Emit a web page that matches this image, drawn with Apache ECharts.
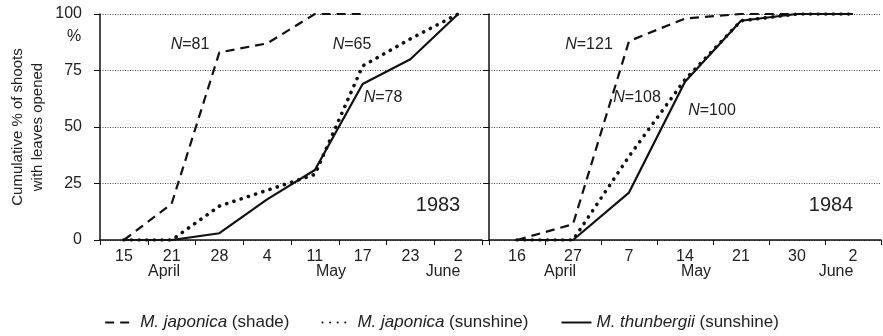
<!DOCTYPE html>
<html>
<head>
<meta charset="utf-8">
<script src="https://cdn.jsdelivr.net/npm/echarts@6/dist/echarts.min.js"></script>
<style>
  html, body { margin: 0; padding: 0; background: #fff; }
  #chart { width: 883px; height: 336px; }
</style>
</head>
<body>
<div id="chart"></div>
<script>
// 1983 panel
const days1983 = ["15", "21", "28", "4", "11", "17", "23", "2"];
const shade1983 = [0, 16, 83, 87, 100, 100, null, null];
const sunJaponica1983 = [0, 0, 15, 22, 29, 77, 89, 100];
const thunbergii1983 = [0, 0, 3, 18, 31, 69, 80, 100];

// 1984 panel
const days1984 = ["16", "27", "7", "14", "21", "30", "2"];
const shade1984 = [0, 7, 88, 98, 100, 100, 100];
const sunJaponica1984 = [0, 0, 37, 71, 97, 100, 100];
const thunbergii1984 = [0, 0, 21, 70, 97, 100, 100];

const yTicks = [0, 25, 50, 75, 100];

const seriesNames = [
  "M. japonica (shade)",
  "M. japonica (sunshine)",
  "M. thunbergii (sunshine)"
];

const FONT = "Liberation Sans, Arial, sans-serif";
const INK = "#111";
const TXT = "#222";

const lineStyles = [
  { color: INK, width: 2.2, type: [9, 6] },
  { color: INK, width: 3.6, type: [0.1, 7.5], cap: "round" },
  { color: INK, width: 2.2, type: "solid" }
];

function xAxisFor(gridIndex, days) {
  return {
    type: "category",
    gridIndex: gridIndex,
    data: days,
    boundaryGap: true,
    axisLine: { lineStyle: { color: INK, width: 1.5 } },
    axisTick: { show: true, length: 5, lineStyle: { color: INK, width: 1 } },
    axisLabel: { color: TXT, fontSize: 16, fontFamily: FONT, margin: 9, interval: 0 },
    splitLine: { show: false }
  };
}

function yAxisFor(gridIndex, showLabels) {
  return {
    type: "value",
    gridIndex: gridIndex,
    min: yTicks[0],
    max: yTicks[yTicks.length - 1],
    interval: 25,
    axisLine: { show: true, lineStyle: { color: INK, width: 1.5 } },
    axisTick: { show: true, length: 6, lineStyle: { color: INK, width: 1 } },
    axisLabel: { show: showLabels, color: TXT, fontSize: 16, fontFamily: FONT, margin: 18 },
    splitLine: { show: true, lineStyle: { color: "#444", width: 1, type: [1, 1.5] } },
    name: showLabels ? "Cumulative % of shoots\nwith leaves opened" : "",
    nameLocation: "middle",
    nameRotate: 90,
    nameGap: 52,
    nameTextStyle: { color: TXT, fontSize: 15, fontFamily: FONT, lineHeight: 20 }
  };
}

function lineSeries(idx, gridIdx, data) {
  return {
    name: seriesNames[idx],
    type: "line",
    xAxisIndex: gridIdx,
    yAxisIndex: gridIdx,
    data: data,
    symbol: "none",
    showSymbol: false,
    connectNulls: false,
    silent: true,
    itemStyle: { color: INK },
    lineStyle: lineStyles[idx],
    z: 3 + idx
  };
}

function textEl(x, y, rich, size) {
  return {
    type: "text",
    x: x,
    y: y,
    style: {
      text: rich,
      fill: TXT,
      font: size + "px " + FONT,
      align: "center",
      verticalAlign: "middle",
      rich: {
        i: { fontStyle: "italic", fontSize: size, fontFamily: FONT, fill: TXT },
        n: { fontSize: size, fontFamily: FONT, fill: TXT }
      }
    }
  };
}

const option = {
  animation: false,
  backgroundColor: "#fff",
  textStyle: { fontFamily: FONT },
  grid: [
    { left: 100, right: 401, top: 14, bottom: 96 },
    { left: 489, right: 2, top: 14, bottom: 96 }
  ],
  xAxis: [xAxisFor(0, days1983), xAxisFor(1, days1984)],
  yAxis: [yAxisFor(0, true), yAxisFor(1, false)],
  legend: {
    left: "center",
    top: 309,
    itemWidth: 30,
    itemHeight: 12,
    itemGap: 32,
    selectedMode: false,
    data: seriesNames,
    itemStyle: { opacity: 0 },
    formatter: function (name) {
      const parts = name.split(" (");
      return "{i|" + parts[0] + "} {n|(" + parts[1] + "}";
    },
    textStyle: {
      color: TXT,
      fontSize: 17,
      fontFamily: FONT,
      rich: {
        i: { fontStyle: "italic", fontSize: 17, fontFamily: FONT, color: TXT },
        n: { fontSize: 17, fontFamily: FONT, color: TXT }
      }
    }
  },
  graphic: [
    textEl(74, 37, "%", 16),
    // sample sizes
    textEl(190, 45, "{i|N}{n|=81}", 16),
    textEl(352, 45, "{i|N}{n|=65}", 16),
    textEl(383, 98, "{i|N}{n|=78}", 16),
    textEl(589, 45, "{i|N}{n|=121}", 16),
    textEl(637, 98, "{i|N}{n|=108}", 16),
    textEl(712, 111, "{i|N}{n|=100}", 16),
    // years
    textEl(438, 205, "1983", 20),
    textEl(831, 205, "1984", 20),
    // months
    textEl(164, 272, "April", 16),
    textEl(331, 272, "May", 16),
    textEl(443, 272, "June", 16),
    textEl(560, 272, "April", 16),
    textEl(696, 272, "May", 16),
    textEl(836, 272, "June", 16)
  ],
  series: [
    lineSeries(0, 0, shade1983),
    lineSeries(1, 0, sunJaponica1983),
    lineSeries(2, 0, thunbergii1983),
    lineSeries(0, 1, shade1984),
    lineSeries(1, 1, sunJaponica1984),
    lineSeries(2, 1, thunbergii1984)
  ]
};

const myChart = echarts.init(document.getElementById("chart"), null, { renderer: "canvas" });
myChart.setOption(option);
</script>
</body>
</html>
